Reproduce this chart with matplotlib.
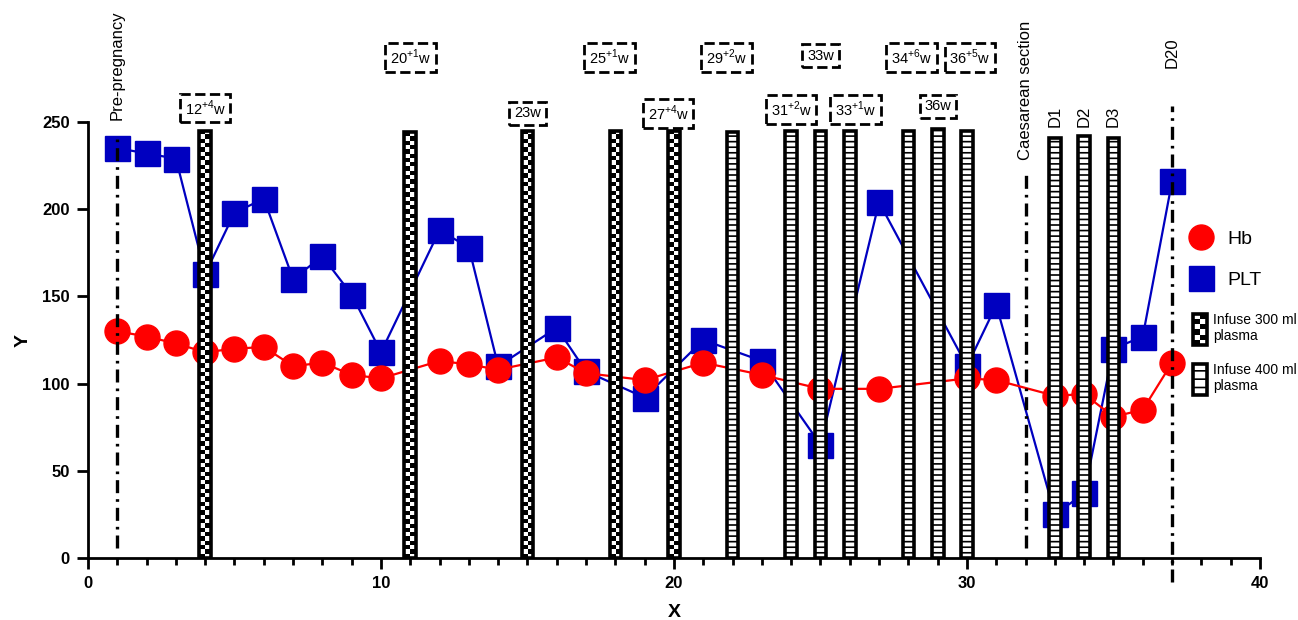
import numpy as np
import matplotlib
matplotlib.use("Agg")
import matplotlib.pyplot as plt
from matplotlib.patches import Rectangle, Patch
from matplotlib.legend_handler import HandlerBase
from matplotlib.ticker import MultipleLocator

plt.rcParams['font.family'] = ['Liberation Sans', 'DejaVu Sans']
plt.rcParams['mathtext.fontset'] = 'custom'
plt.rcParams['mathtext.rm'] = 'Liberation Sans'
plt.rcParams['hatch.linewidth'] = 1.2

# --- data ---
x_days = [1, 2, 3, 4, 5, 6, 7, 8, 9, 10, 12, 13, 14, 16, 17, 19, 21, 23,
          25, 27, 30, 31, 33, 34, 35, 36, 37]
hb = [130, 127, 123, 118, 120, 121, 110, 112, 105, 103, 113, 111, 108, 115,
      106, 102, 112, 105, 97, 97, 103, 102, 93, 94, 81, 85, 112]
plt_vals = [235, 232, 229, 163, 198, 206, 160, 173, 151, 118, 188, 178, 110,
            132, 107, 92, 125, 113, 65, 204, 110, 145, 25, 37, 120, 127, 216]

# plasma infusions (bar position, bar height)
x300 = [4, 11, 15, 18, 20]
h300 = [245, 244, 245, 245, 245]
x400 = [22, 24, 25, 26, 28, 29, 30, 33, 34, 35]
h400 = [244, 245, 245, 245, 245, 246, 245, 241, 242, 241]

# gestational week labels
week_x = [4, 11, 15, 17.8, 19.8, 21.8, 24, 25, 26.2, 28.1, 29, 30.1]
week_y = [258, 287, 255, 287, 255, 287, 257, 288, 257, 287, 259, 287]
week_txt = [r'12$^{\mathregular{+4}}$w', r'20$^{\mathregular{+1}}$w', '23w',
            r'25$^{\mathregular{+1}}$w', r'27$^{\mathregular{+4}}$w',
            r'29$^{\mathregular{+2}}$w', r'31$^{\mathregular{+2}}$w', '33w',
            r'33$^{\mathregular{+1}}$w', r'34$^{\mathregular{+6}}$w', '36w',
            r'36$^{\mathregular{+5}}$w']

# event lines: x, bottom, top, label, label y
ev_x = [1, 32, 37]
ev_lo = [6, 6, -14]
ev_hi = [240, 221, 259]
ev_txt = ['Pre-pregnancy', 'Caesarean section', 'D20']
ev_ty = [251, 228, 281]

day_x = [33, 34, 35]
day_txt = ['D1', 'D2', 'D3']

RED = '#ff0000'
BLUE = '#0000c0'
BAR_W = 0.4
BAR_LW = 2.6
DASHDOT = (0, (3.9, 1.8, 0.8, 1.8))


class CheckerHandler(HandlerBase):
    def create_artists(self, legend, orig_handle, xdescent, ydescent,
                       width, height, fontsize, trans):
        x0, y0 = -xdescent, -ydescent
        arts = [Rectangle((x0, y0), width, height, fc='white', ec='none',
                          transform=trans)]
        ncol, nrow = 2, 6
        cw, ch = width / ncol, height / nrow
        for i in range(nrow):
            for j in range(ncol):
                if (i + j) % 2 == 0:
                    arts.append(Rectangle((x0 + j * cw, y0 + i * ch), cw, ch,
                                          fc='black', ec='none',
                                          transform=trans))
        arts.append(Rectangle((x0, y0), width, height, fc='none', ec='black',
                              lw=BAR_LW, transform=trans))
        return arts


fig = plt.figure(figsize=(12.98, 6.2), dpi=100)
ax = fig.add_axes([0.0678, 0.1, 0.9029, 0.7032])

l_plt, = ax.plot(x_days, plt_vals, color=BLUE, lw=1.6, marker='s', ms=18,
                 mec=BLUE, mfc=BLUE, zorder=2)
l_hb, = ax.plot(x_days, hb, color=RED, lw=1.6, marker='o', ms=18,
                mec=RED, mfc=RED, zorder=3)

# checkered bars (300 ml)
for x, h in zip(x300, h300):
    nrow = int(round(h * 1.744 / 4.3))
    checker = (np.indices((nrow, 2)).sum(axis=0) % 2).astype(float)
    ax.imshow(checker, extent=(x - BAR_W / 2, x + BAR_W / 2, 0, h),
              cmap='gray', aspect='auto', interpolation='nearest',
              vmin=0, vmax=1, zorder=4)
ax.bar(x300, h300, width=BAR_W, facecolor='none', edgecolor='black',
       lw=BAR_LW, zorder=5)

# striped bars (400 ml)
ax.bar(x400, h400, width=BAR_W, facecolor='white', edgecolor='black',
       hatch='---', lw=BAR_LW, zorder=5)

# event lines and labels
for x, lo, hi, t, ty in zip(ev_x, ev_lo, ev_hi, ev_txt, ev_ty):
    ax.plot([x, x], [lo, hi], color='black', lw=2.4, linestyle=DASHDOT,
            zorder=6, clip_on=False)
    ax.text(x, ty, t, rotation=90, ha='center', va='bottom', fontsize=12,
            clip_on=False)

for x, t in zip(day_x, day_txt):
    ax.text(x, 247, t, rotation=90, ha='center', va='bottom', fontsize=12)

for x, y, t in zip(week_x, week_y, week_txt):
    ax.text(x, y, t, ha='center', va='center', fontsize=10.5,
            bbox=dict(boxstyle='square,pad=0.32', fc='white', ec='black',
                      ls='--', lw=2.0))

# axes styling
ax.set_xlim(0, 40)
ax.set_ylim(0, 250)
ax.spines['top'].set_visible(False)
ax.spines['right'].set_visible(False)
for s in ('left', 'bottom'):
    ax.spines[s].set_linewidth(2.0)
ax.xaxis.set_major_locator(MultipleLocator(10))
ax.xaxis.set_minor_locator(MultipleLocator(1))
ax.yaxis.set_major_locator(MultipleLocator(50))
ax.tick_params(which='major', length=8, width=2.0, labelsize=12, pad=5)
ax.tick_params(axis='x', which='minor', length=5, width=2.0)
for lab in ax.get_xticklabels() + ax.get_yticklabels():
    lab.set_fontweight('bold')
ax.set_xlabel('X', fontsize=14, fontweight='bold', labelpad=9)
ax.set_ylabel('Y', fontsize=14, fontweight='bold', labelpad=8)

leg1 = ax.legend([l_hb, l_plt], ['Hb', 'PLT'], loc='center left',
                 bbox_to_anchor=(0.9176, 0.5815),
                 bbox_transform=fig.transFigure, frameon=False, fontsize=14,
                 handlelength=1.0, handletextpad=0.85, labelspacing=1.2,
                 borderpad=0, borderaxespad=0)
ax.add_artist(leg1)

h_300 = Patch(facecolor='white', edgecolor='black')
h_400 = Patch(facecolor='white', edgecolor='black', hatch='--', lw=BAR_LW)
ax.legend([h_300, h_400], ['Infuse 300 ml\nplasma', 'Infuse 400 ml\nplasma'],
          handler_map={h_300: CheckerHandler()}, loc='center left',
          bbox_to_anchor=(0.919, 0.429), bbox_transform=fig.transFigure,
          frameon=False, fontsize=10, handlelength=1.0, handleheight=3.1,
          handletextpad=0.45, labelspacing=1.3, borderpad=0, borderaxespad=0)

fig.savefig('out.png', dpi=100)
